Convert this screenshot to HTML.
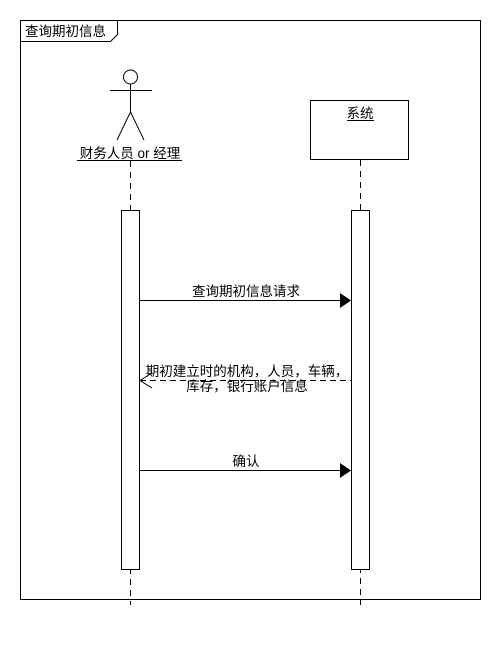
<!DOCTYPE html>
<html><head><style>body{margin:0;background:#fff}</style></head><body>
<svg width="500" height="640" xmlns="http://www.w3.org/2000/svg" font-family="Liberation Sans, Noto Sans CJK SC, sans-serif" font-size="13.5" fill="#000">
<rect width="500" height="640" fill="#fff"/>
<rect x="20.5" y="20.5" width="460" height="579" fill="none" stroke="#000"/>
<path d="M20.5 41.5 H110.5 L117.5 34.5 V20.5" fill="none" stroke="#000"/>
<text x="25" y="36" font-size="13.5">查询期初信息</text>
<circle cx="130.5" cy="77" r="7" fill="none" stroke="#000"/>
<path d="M110 90.5 H152 M130.5 84 V112 L117 140 M130.5 112 L144 140" fill="none" stroke="#000"/>
<text x="130" y="158" text-anchor="middle" font-size="13.5">财务人员 or 经理</text>
<line x1="77" y1="160.5" x2="182" y2="160.5" stroke="#000"/>
<line x1="130.5" y1="161" x2="130.5" y2="605" stroke="#000" stroke-dasharray="6,5"/>
<line x1="360.5" y1="160" x2="360.5" y2="605" stroke="#000" stroke-dasharray="6,5"/>
<rect x="310.5" y="100.5" width="98" height="59" fill="#fff" stroke="#000"/>
<text x="360" y="118" text-anchor="middle">系统</text>
<line x1="347" y1="120.5" x2="374" y2="120.5" stroke="#000"/>
<rect x="121.5" y="210.5" width="18" height="359" fill="#fff" stroke="#000"/>
<rect x="351.5" y="210.5" width="18" height="359" fill="#fff" stroke="#000"/>
<line x1="140" y1="300.5" x2="340" y2="300.5" stroke="#000"/>
<path d="M340 293 L351 300.5 L340 308 Z" fill="#000"/>
<text x="246" y="296" text-anchor="middle">查询期初信息请求</text>
<line x1="140" y1="380.5" x2="351" y2="380.5" stroke="#000" stroke-dasharray="6,4"/>
<path d="M152 373 L140 380.5 L152 388" fill="none" stroke="#000"/>
<text x="247" y="376" text-anchor="middle">期初建立时的机构，人员，车辆，</text>
<text x="247" y="391" text-anchor="middle">库存，银行账户信息</text>
<line x1="140" y1="470.5" x2="340" y2="470.5" stroke="#000"/>
<path d="M340 463 L351 470.5 L340 478 Z" fill="#000"/>
<text x="246" y="466" text-anchor="middle">确认</text>
</svg>
</body></html>
